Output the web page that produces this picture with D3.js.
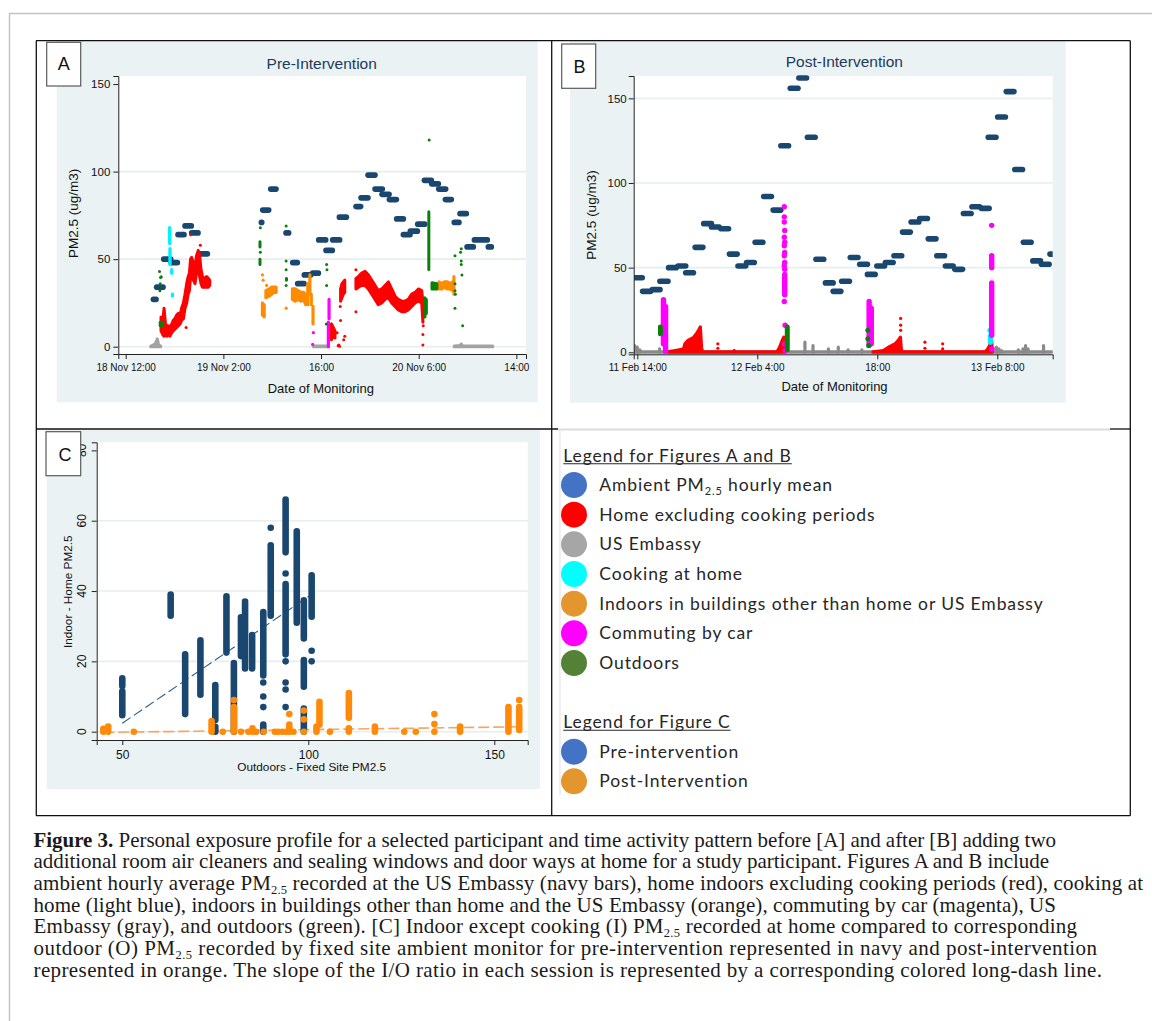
<!DOCTYPE html>
<html><head><meta charset="utf-8">
<script src="https://cdn.jsdelivr.net/npm/d3@7"></script>
<style>body{margin:0;background:#fff}svg{display:block}</style>
</head><body>
<svg id="fig" width="1152" height="1021"></svg>
<script>
// ================= DATA =================
// Panel A (pre-intervention): hours since 18 Nov 12:00
const tickHoursA = [0, 14, 28, 42, 56];
const tickLabelsA = ["18 Nov 12:00", "19 Nov 2:00", "16:00", "20 Nov 6:00", "14:00"];
// Panel B (post-intervention): hours since 11 Feb 14:00
const tickHoursB = [0, 14, 28, 42];
const tickLabelsB = ["11 Feb 14:00", "12 Feb 4:00", "18:00", "13 Feb 8:00"];
const yTicksAB = [0, 50, 100, 150];
const gridA = [0, 50, 100];
const gridB = [0, 50, 100, 150];

// ambient hourly mean: [start hour, end hour, PM2.5]
const ambientA = [[3.97,4.35,27],[4.44,5.35,34],[5.45,6.45,50],[6.5,7.41,48],[7.5,8.36,64],[8.5,9.41,69],[9.46,10.37,65],[10.56,11.71,53],
 [19.45,19.5,71],[19.64,20.5,78],[20.78,21.55,90],[22.98,23.36,65],[23.94,24.6,48],[24.65,25.56,36],[25.6,26.52,41],[26.8,27.62,42],
 [27.66,28.67,61],[28.71,29.62,55],[29.67,30.67,61],[30.63,31.63,74],[33.01,33.68,80],[33.73,34.73,85],[34.73,35.74,98],[35.74,36.79,90],
 [36.74,37.75,87],[37.79,38.8,84],[38.84,39.8,73],[39.8,40.76,64],[40.8,41.81,66],[41.86,42.86,70],[42.81,43.81,95],[43.86,44.82,93],
 [44.87,45.87,90],[45.82,46.68,84],[47.1,47.77,71],[47.92,48.83,76],[48.93,49.83,57],[49.98,51.84,61],[51.98,52.41,57]];
const ambientB = [[-0.5,0.58,44],[0.62,1.56,36],[1.75,2.65,37],[2.64,3.58,42],[3.65,4.55,50],[4.75,5.65,51],[5.65,6.55,47],[6.75,7.65,62],
 [7.75,8.65,76],[8.65,9.55,74],[9.75,10.65,73],[10.75,11.65,58],[11.75,12.65,51],[12.75,13.65,53],[13.75,14.65,65],[14.75,15.65,92],
 [15.85,16.75,84],[16.75,17.65,122],[17.85,18.75,156],[18.85,19.75,162],[19.85,20.75,127],[20.85,21.75,55],[21.95,22.85,41],[22.85,23.75,36],
 [23.85,24.75,42],[24.85,25.75,56],[25.95,26.85,52],[26.85,27.75,46],[27.95,28.85,51],[28.95,29.85,53],[29.95,30.85,57],[30.95,31.85,71],
 [31.95,32.85,77],[32.95,33.85,79],[33.95,34.85,67],[34.95,35.85,57],[35.95,36.85,51],[37.05,37.95,49],[38.05,38.95,82],[39.05,39.95,86],
 [40.15,41.05,85],[40.95,41.85,127],[42.05,42.95,139],[43.05,43.95,154],[44.05,44.95,108],[45.05,45.95,65],[46.15,47.05,54],[47.15,48.05,52],
 [48.15,48.8,58]];

// activity series: [t, v] single reading, [t, lo, hi] burst of readings, [[t,lo,hi],...] continuous run
const embassyA = [
 [[3.6,0,0.3],[4.0,0,1],[4.3,0,2],[4.54,0,4.4],[4.7,0,1],[5.0,0,0.3]],
 [[26.9,0,0.3],[29.05,0,0.3]],
 [[47.1,0,0.3],[47.9,0,0.6],[48.1,0,1.5],[48.3,0,0.3],[52.6,0,0.3]]];
const homeA = [
 [[5.06,9,17],[5.3,7,14],[5.5,6,22],[5.7,7,13],[5.9,6,12],[6.1,7,12],[6.35,6,11],[6.6,8,13],[6.8,9,15],[7.05,10,16],[7.3,11,18],
  [7.55,12,19],[7.8,13,18],[8.0,15,22],[8.27,16,25],[8.5,22,30],[8.74,25,36],[8.95,30,40],[9.13,32,42],[9.3,40,50],[9.46,42,51],
  [9.7,38,48],[9.94,36,46],[10.15,42,52],[10.4,45,55],[10.6,40,52],[10.8,36,44],[11.0,34,40],[11.3,34,39],[11.6,34,40],[11.85,34,39],[12.05,35,38]],
 [8.65,11],[9.32,64],[10.7,58],
 [[29.3,5,12],[29.5,4,13],[29.75,6,11],[30.0,5,9]],
 [30.3,8],[30.45,0.5],[30.55,1],[30.65,0.3],
 [[30.8,26,33],[31.0,28,36],[31.2,30,37],[31.4,31,38]],
 [30.75,23],[30.8,15],[31.4,6],[31.25,4],
 [[33.0,33,39],[33.35,34,40],[33.83,35,42],[34.3,35,43],[34.78,33,41],[35.26,30,38],[35.74,27,35],[36.2,24,32],[36.7,25,33],
  [37.17,27,35],[37.65,28,37],[38.13,25,33],[38.6,23,29],[39.08,21,27],[39.56,20,26],[40.04,20,26],[40.5,21,27],[41.0,23,30],
  [41.47,25,31],[41.95,26,33],[42.43,25,32],[42.6,14,26]],
 [33.0,44],[33.0,20],[42.6,7],[42.6,1],[42.65,12]];
const cookingA = [[6.3,59,68],[6.35,47,56],[6.6,42,44],[6.7,29,30]];
const otherIndoorA = [
 [19.6,18,25],[19.85,17,24],[19.6,41],[19.7,38],[20.2,35],
 [[20.1,28,32],[20.6,29,33],[20.9,30,34],[21.2,31,34],[21.55,31,34]],
 [23.0,22],
 [[23.9,27,33],[24.3,26,33],[24.7,27,32],[25.1,26,31],[25.5,27,31],[25.8,24,30]],
 [26.1,24,36],[26.4,30,41],[26.6,24,30],[26.85,13,23],
 [[44.9,33,37],[45.3,33,36],[45.7,34,37],[46.1,33,37],[46.5,33,36],[46.9,32,37]],
 [47.05,30,40]];
const carA = [[26.8,1.3],[26.9,8],[29.05,0,14],[29.15,16,27]];
const outdoorsA = [
 [[4.95,12,14],[5.3,12,14]],
 [4.85,43],[5.0,39.5],[5.1,40],[4.95,36],[4.9,32],
 [19.25,47,50],[19.25,57,60],[19.3,54],[19.3,68],
 [23.0,69],[23.0,49],[23.0,44],[23.05,38,39],[23.0,35],
 [28.8,47],[28.85,44],[28.8,35],[28.75,13],
 [43.5,118],[43.45,44,77],[42.9,17,28],[43.1,19,27],
 [[43.9,33,36.5],[44.6,33,36]],
 [47.2,52],[47.2,36],[47.2,32],[47.25,30],[47.2,22],[48.1,56],[48.0,54],[48.1,49],[48.1,47],[48.2,41],[48.3,12]];

const embassyB = [
 [[-0.42,0,0.3],[48.47,0,0.3]],
 [-0.3,0,4],[0.0,0,3],[0.3,0,1.5],[2.6,0,2],[11.3,0,1],[19.56,0,6],[20.5,0,4],[22.3,0,2],[23.45,0,3],[24.6,0,1.5],[26.2,0,1.5],
 [41.9,0,3],[42.2,0,2],[42.5,0,1],[44.46,0,1.5],[45.0,0,2],[45.3,0,4],[45.6,0,2],[47.4,0,4]];
const homeB = [
 [[3.6,0,0.3],[4.9,0,1.5],[5.4,0,2],[5.55,0,5],[5.9,0,7],[6.3,0,8],[6.6,0,9],[6.9,0,11],[7.15,0,13],[7.35,0,15],[7.5,0,3],
  [7.6,0,0.3],[16.3,0,0.3],[16.6,0,3],[16.9,0,7],[17.1,0,9],[17.25,0,0.3]],
 [9.4,5],[9.4,2.4],[11.3,1],
 [[27.5,0,0.3],[28.7,0,1],[29.3,0,3],[29.7,0,4],[30.07,0,5],[30.45,0,7],[30.7,0,9],[30.8,0,2],[30.9,0,0.3],
  [40.6,0,0.3],[40.9,0,2],[41.2,0,5],[41.35,0,7],[41.42,0,0.3]],
 [30.73,20],[30.73,16],[30.73,13],[33.56,6],[33.56,2.4],[35.63,5],[35.63,2]];
const cookingB = [[41.15,13],[41.2,6,9.5]];
const carB = [
 [3.05,5,31],[3.3,0,27],
 [17.15,86],[17.15,80],[17.15,77],[17.2,72],[17.15,68],[17.2,65],[17.15,63],[17.2,59],[17.15,57],[17.2,53],[17.15,51],[17.2,49],
 [17.2,34,46],[17.15,30],[17.25,16],[17.2,5],[17.25,1],
 [27.05,4,30],[27.3,5,26],
 [41.35,75],[41.35,50,57],[41.35,10,41],[41.4,2]];
const outdoorsB = [[2.7,11,15],[17.5,1.5,15],[26.9,13],[26.9,8],[27.0,4]];

// Panel C: outdoor fixed-site PM2.5 vs indoor home PM2.5: [x, y] or [x, ylo, yhi]
const xTicksC = [50, 100, 150];
const yTicksC = [0, 20, 40, 60, 80];
const gridC = [0, 20, 40, 60];
const preC = [[50,4.7,11.5],[50,13,15.2],[63,33,39],[66.9,5,22],[71,10.5,26],[75,0,1.4],[75,3.3,13.3],[78,22.5,38.5],[80,0,19.5],
 [81.9,21.5,32.5],[83,18,37],[84.9,18,27.5],[87.9,0,2],[87.9,7],[87.9,10],[87.9,14],[87.9,16,34],[89.9,33,53],[89.9,58],
 [93.9,7],[93.9,12],[93.9,14],[93.9,20],[93.9,22,42],[93.9,45],[93.9,51,66],[96.9,31,57],
 [98.8,0,6.6],[98.8,12.8,20.4],[98.8,26.5,37.4],[100.9,20],[100.9,23],[100.9,32.7,44.5]];
const postC = [[44.9,0,0.8],[46.2,0,1.5],[53.1,0],[74,0,3],[77,0],[80,0,7],[80,9],[81.9,0],[83.9,0],[85,0,1],[86,0],[88,0],
 [91,0],[91.9,0],[93,0],[94,0],[94.9,0,2],[94.9,5],[96,0],[98.8,0],[98.8,3.5],[98.8,6],[102.2,0,1.5],[103,2,8.5],[105.8,0],
 [110.9,0,1],[110.9,4,11],[117.9,0,1.5],[125.8,0],[128.9,0],[133.9,0],[133.9,2.2],[133.9,5],[140.8,0,1.5],[153.8,0,7],
 [156.7,0.5,7],[156.7,9]];
// I/O fit lines: [slope, intercept, xFrom, xTo]
const preFit = [0.72, -33.6, 50, 101];
const postFit = [0.0143, -0.843, 44.9, 156.7];

const legendAB = ["Ambient PM{2.5} hourly mean", "Home excluding cooking periods", "US Embassy", "Cooking at home",
  "Indoors in buildings other than home or US Embassy", "Commuting by car", "Outdoors"];
const legendC = ["Pre-intervention", "Post-Intervention"];
const caption = [
 "**Figure 3.** Personal exposure profile for a selected participant and time activity pattern before [A] and after [B] adding two",
 "additional room air cleaners and sealing windows and door ways at home for a study participant. Figures A and B include",
 "ambient hourly average PM{2.5} recorded at the US Embassy (navy bars), home indoors excluding cooking periods (red), cooking at",
 "home (light blue), indoors in buildings other than home and the US Embassy (orange), commuting by car (magenta), US",
 "Embassy (gray), and outdoors (green). [C] Indoor except cooking (I) PM{2.5} recorded at home compared to corresponding",
 "outdoor (O) PM{2.5} recorded by fixed site ambient monitor for pre-intervention represented in navy and post-intervention",
 "represented in orange. The slope of the I/O ratio in each session is represented by a corresponding colored long-dash line."];

// ================= STYLE / LAYOUT =================
const SANS = "'Liberation Sans', Arial, sans-serif";
const C = {bg:"#eaf2f3", grid:"#e6eef0", navy:"#1a476f", red:"#ff0000", grayA:"#a3a3a3", grayB:"#8a8a8a", cyan:"#00f2ff",
  orange:"#ff8c00", magenta:"#ff00ff", green:"#0a800a", title:"#1c3a5e"};
const legColorsAB = ["#4472c4","#ff0000","#a6a6a6","#00ffff","#e4962e","#ff00ff","#538135"];
const legColorsC = ["#4472c4","#e4962e"];

const svg = d3.select("#fig");
const defs = svg.append("defs");

// page frame
svg.append("line").attr("x1",9).attr("x2",1152).attr("y1",13.5).attr("y2",13.5).attr("stroke","#c4c4c4").attr("stroke-width",1.5);
svg.append("line").attr("x1",9.5).attr("x2",9.5).attr("y1",13).attr("y2",1021).attr("stroke","#c4c4c4").attr("stroke-width",1.5);

function drawSeries(g, x, y, data, color, r) {
  data.forEach(item => {
    if (Array.isArray(item[0])) {
      g.append("path").datum(item)
        .attr("d", d3.area().x(d => x(d[0])).y0(d => y(d[1])).y1(d => y(d[2])))
        .attr("fill", color).attr("stroke", color).attr("stroke-width", 2*r).attr("stroke-linejoin","round");
    } else if (item.length === 3) {
      g.append("line").attr("x1", x(item[0])).attr("x2", x(item[0]) + 0.01).attr("y1", y(item[1])).attr("y2", y(item[2]))
        .attr("stroke", color).attr("stroke-width", 2*r).attr("stroke-linecap","round");
    } else {
      g.append("circle").attr("cx", x(item[0])).attr("cy", y(item[1])).attr("r", r).attr("fill", color);
    }
  });
}

function styleAxis(g, fs) {
  g.attr("font-family", SANS).attr("font-size", fs);
  g.selectAll("path,line").attr("stroke", "#222").attr("stroke-width", 1);
  g.selectAll("text").attr("fill", "#111");
}

function labelBox(x, y, w, h, letter, tx, ty) {
  svg.append("rect").attr("x", x).attr("y", y).attr("width", w).attr("height", h)
    .attr("fill", "#fff").attr("stroke", "#5a5a5a").attr("stroke-width", 1.2);
  svg.append("text").attr("x", tx).attr("y", ty).attr("text-anchor","middle").attr("font-family", SANS)
    .attr("font-size", 18).attr("fill","#111").text(letter);
}

function timePanel(cfg) {
  const g = svg.append("g");
  g.append("rect").attr("x", cfg.bg[0]).attr("y", cfg.bg[1]).attr("width", cfg.bg[2]).attr("height", cfg.bg[3]).attr("fill", C.bg);
  const p = cfg.plot;
  g.append("rect").attr("x", p[0]).attr("y", p[2]).attr("width", p[1]-p[0]).attr("height", p[3]-p[2]).attr("fill", "#fff");
  const x = d3.scaleLinear().domain(cfg.xDomain).range([p[0], p[1]]);
  const y = d3.scaleLinear().domain(cfg.yDomain).range([p[3], p[2]]);
  g.selectAll(null).data(cfg.grid).join("line").attr("x1", p[0]).attr("x2", p[1])
    .attr("y1", d => y(d)).attr("y2", d => y(d)).attr("stroke", C.grid).attr("stroke-width", 1.6);
  defs.append("clipPath").attr("id", cfg.id).append("rect").attr("x", p[0]+0.5).attr("y", p[2]-4).attr("width", p[1]-p[0]-0.5).attr("height", p[3]-p[2]+3.5);
  const dg = g.append("g").attr("clip-path", `url(#${cfg.id})`);
  dg.selectAll(null).data(cfg.bars).join("line")
    .attr("x1", d => x(d[0])).attr("x2", d => x(d[1])).attr("y1", d => y(d[2])).attr("y2", d => y(d[2]))
    .attr("stroke", C.navy).attr("stroke-width", 5.6).attr("stroke-linecap", "round");
  cfg.series.forEach(s => drawSeries(dg, x, y, s[0], s[1], s[2]));
  const ax = g.append("g").attr("transform", `translate(0,${p[3]})`)
    .call(d3.axisBottom(x).tickValues(cfg.xTicks).tickFormat((d, i) => cfg.xLabels[i]).tickSizeOuter(0).tickSize(5).tickPadding(5));
  styleAxis(ax, 10);
  const ay = g.append("g").attr("transform", `translate(${p[0]},0)`)
    .call(d3.axisLeft(y).tickValues(yTicksAB).tickSizeOuter(0).tickSize(5).tickPadding(cfg.yPad));
  styleAxis(ay, 11.5);
  g.append("text").attr("x", cfg.titlePos[0]).attr("y", cfg.titlePos[1]).attr("text-anchor","middle")
    .attr("font-family", SANS).attr("font-size", 15.5).attr("fill", C.title).text(cfg.title);
  g.append("text").attr("transform", `translate(${cfg.yTitle[0]},${cfg.yTitle[1]}) rotate(-90)`).attr("text-anchor","middle")
    .attr("dy","0.35em").attr("font-family", SANS).attr("font-size", 13.5).attr("fill","#111").text("PM2.5 (ug/m3)");
  g.append("text").attr("x", cfg.xTitle[0]).attr("y", cfg.xTitle[1]).attr("text-anchor","middle")
    .attr("font-family", SANS).attr("font-size", 13).attr("fill","#111").text("Date of Monitoring");
}

timePanel({id:"clipA", bg:[56.7,41,481,361.3], plot:[118.3,526,76,354], xDomain:[-1.06,57.38], yDomain:[-4.17,154.6],
  grid:gridA, bars:ambientA, xTicks:tickHoursA, xLabels:tickLabelsA, yPad:3,
  series:[[embassyA,C.grayA,1.6],[homeA,C.red,1.5],[otherIndoorA,C.orange,1.6],[cookingA,C.cyan,1.7],[carA,C.magenta,1.6],[outdoorsA,C.green,1.5]],
  title:"Pre-Intervention", titlePos:[321.7,69.3], yTitle:[73.3,213.3], xTitle:[320.8,392.5]});
timePanel({id:"clipB", bg:[570,41,495.7,361.7], plot:[633.7,1052.7,76,354.3], xDomain:[-0.42,48.47], yDomain:[-1.18,163.2],
  grid:gridB, bars:ambientB, xTicks:tickHoursB, xLabels:tickLabelsB, yPad:2,
  series:[[embassyB,C.grayB,1.6],[homeB,C.red,1.6],[cookingB,C.cyan,2.6],[carB,C.magenta,2.7],[outdoorsB,C.green,2.5]],
  title:"Post-Intervention", titlePos:[844.3,66.5], yTitle:[591.7,215], xTitle:[834.5,391]});

// ---------- Panel C ----------
(function(){
  const g = svg.append("g");
  g.append("rect").attr("x",46.7).attr("y",430).attr("width",493.3).attr("height",359).attr("fill",C.bg);
  const p = [96.7, 527.7, 442.3, 740];
  g.append("rect").attr("x",p[0]).attr("y",p[2]).attr("width",p[1]-p[0]).attr("height",p[3]-p[2]).attr("fill","#fff");
  const x = d3.scaleLinear().domain([43.12,158.98]).range([p[0],p[1]]);
  const y = d3.scaleLinear().domain([-2.36,82.3]).range([p[3],p[2]]);
  g.selectAll(null).data(gridC).join("line").attr("x1",p[0]).attr("x2",p[1]).attr("y1",d=>y(d)).attr("y2",d=>y(d))
    .attr("stroke",C.grid).attr("stroke-width",1.6);
  const fitLine = (f) => [[f[2], f[0]*f[2]+f[1]], [f[3], f[0]*f[3]+f[1]]];
  g.append("path").attr("d", d3.line().x(d=>x(d[0])).y(d=>y(d[1]))(fitLine(preFit)))
    .attr("stroke","#2b5a86").attr("stroke-width",1.1).attr("stroke-dasharray","10,4").attr("fill","none");
  g.append("path").attr("d", d3.line().x(d=>x(d[0])).y(d=>y(d[1]))(fitLine(postFit)))
    .attr("stroke","#f5a55c").attr("stroke-width",1.6).attr("stroke-dasharray","11,4").attr("fill","none");
  drawSeries(g, x, y, preC, C.navy, 3.3);
  drawSeries(g, x, y, postC, "#ff8a0a", 3.3);
  const ax = g.append("g").attr("transform",`translate(0,${p[3]})`)
    .call(d3.axisBottom(x).tickValues(xTicksC).tickSizeOuter(0).tickSize(5).tickPadding(5));
  styleAxis(ax, 12);
  const ay = g.append("g").attr("transform",`translate(${p[0]},0)`)
    .call(d3.axisLeft(y).tickValues(yTicksC).tickFormat("").tickSizeOuter(0).tickSize(5));
  styleAxis(ay, 12);
  g.selectAll(null).data(yTicksC).join("text").attr("transform", d => `translate(81.7,${y(d)}) rotate(-90)`)
    .attr("text-anchor","middle").attr("dy","0.35em").attr("font-family",SANS).attr("font-size",12).attr("fill","#111").text(d=>d);
  g.append("text").attr("transform","translate(68.3,591.7) rotate(-90)").attr("text-anchor","middle").attr("dy","0.35em")
    .attr("font-family",SANS).attr("font-size",11.8).attr("fill","#111").text("Indoor - Home PM2.5");
  g.append("text").attr("x",311.7).attr("y",771).attr("text-anchor","middle")
    .attr("font-family",SANS).attr("font-size",11.8).attr("fill","#111").text("Outdoors - Fixed Site PM2.5");
})();

labelBox(46.7, 42.3, 34, 43.7, "A", 63.7, 70);
labelBox(561.7, 44, 34, 44.3, "B", 579.5, 72.5);
labelBox(46, 431.7, 34.7, 44, "C", 65, 460.5);

// ---------- table lines ----------
const TL = "#111";
[[36,40.7,1130.3,40.7],[36,815.7,1130.3,815.7],[36.3,40.7,36.3,815.7],[1130.3,40.7,1130.3,815.7],[551.7,40.7,551.7,815.7],
 [36,429,558,429],[1110,429,1130.3,429]].forEach(l =>
  svg.append("line").attr("x1",l[0]).attr("y1",l[1]).attr("x2",l[2]).attr("y2",l[3]).attr("stroke",TL).attr("stroke-width",1.3));
svg.append("line").attr("x1",558).attr("x2",1110).attr("y1",429.5).attr("y2",429.5).attr("stroke","#dcdcdc").attr("stroke-width",1.8);
svg.append("line").attr("x1",560).attr("x2",560).attr("y1",430).attr("y2",795).attr("stroke","#e6e6e6").attr("stroke-width",1.2);

// ---------- rich text helper ({sub} subscripts, **bold**) ----------
function richText(sel, str, subSize, subDy) {
  let pending = 0;
  str.split(/(\{[^}]*\}|\*\*[^*]*\*\*)/).filter(s => s.length).forEach(part => {
    if (part.startsWith("{")) {
      sel.append("tspan").attr("font-size", subSize).attr("dy", subDy + pending).text(part.slice(1,-1));
      pending = -subDy;
    } else {
      const bold = part.startsWith("**");
      const ts = sel.append("tspan").text(bold ? part.slice(2,-2) : part);
      if (bold) ts.attr("font-weight","bold");
      if (pending) ts.attr("dy", pending);
      pending = 0;
    }
  });
}

// ---------- legend ----------
(function(){
  const LF = "Lato, 'Open Sans', sans-serif";
  const g = svg.append("g").attr("font-family", LF).attr("font-size", 17.5).attr("fill", "#262626");
  const tx = 599.3, cx = 574, rowH = 29.66;
  const ref = g.append("text").attr("x", tx).attr("y", -100).text(legendAB[4]);
  const ls = (443.4 - ref.node().getComputedTextLength()) / (legendAB[4].length - 1);
  ref.remove();
  g.style("letter-spacing", ls + "px");
  function title(txt, base) {
    const t = g.append("text").attr("x", 563.3).attr("y", base).text(txt);
    const w = t.node().getComputedTextLength();
    g.append("line").attr("x1", 563.3).attr("x2", 563.3 + w).attr("y1", base + 2).attr("y2", base + 2).attr("stroke", "#262626").attr("stroke-width", 1.1);
  }
  function rows(labels, colors, base0) {
    labels.forEach((lab, i) => {
      const b = base0 + i * rowH;
      g.append("circle").attr("cx", cx).attr("cy", b - 6).attr("r", 13).attr("fill", colors[i]);
      richText(g.append("text").attr("x", tx).attr("y", b), lab, 11, 4);
    });
  }
  title("Legend for Figures A and B", 461.7);
  rows(legendAB, legColorsAB, 491);
  title("Legend for Figure C", 728.3);
  rows(legendC, legColorsC, 757.7);
})();

// ---------- caption ----------
(function(){
  const right = [1056, 1049, 1143, 1056, 1077, 1097, 1102];
  const x0 = 33.5;
  const g = svg.append("g").attr("font-family", "'Liberation Serif', 'Times New Roman', serif").attr("font-size", 21).attr("fill", "#1a1a1a");
  caption.forEach((line, i) => {
    const t = g.append("text").attr("x", x0).attr("y", 846.7 + i * 21.67);
    richText(t, line, 12.5, 3.5);
    const n = t.node();
    const nat = n.getComputedTextLength();
    const chars = n.textContent.length;
    t.style("letter-spacing", ((right[i] - x0 - nat) / (chars - 1)) + "px");
  });
})();
</script>
</body></html>
